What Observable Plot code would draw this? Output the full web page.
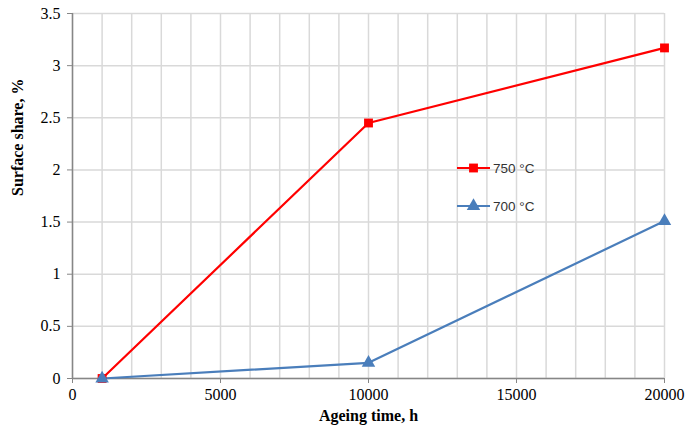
<!DOCTYPE html>
<html>
<head>
<meta charset="utf-8">
<script src="https://cdn.jsdelivr.net/npm/d3@7"></script>
<script src="https://cdn.jsdelivr.net/npm/@observablehq/plot@0.6"></script>
<style>
  html, body { margin: 0; padding: 0; background: #fff; }
  #chart { position: relative; width: 700px; height: 441px; }
</style>
</head>
<body>
<div id="chart"></div>
<script>
const times = [1000, 10000, 20000];
const share750 = [0, 2.45, 3.17];
const share700 = [0, 0.15, 1.51];
const seriesNames = ["750 °C", "700 °C"];
const seriesColors = ["#ff0000", "#4a7ebb"];
const seriesSymbols = ["square", "triangle"];
const xTicks = [0, 5000, 10000, 15000, 20000];
const xGrid = d3.range(0, 20001, 1000);
const yTicks = [0, 0.5, 1, 1.5, 2, 2.5, 3, 3.5];

const rows = [
  ...times.map((t, i) => ({ t, v: share750[i], s: seriesNames[0] })),
  ...times.map((t, i) => ({ t, v: share700[i], s: seriesNames[1] }))
];

const serif = "Liberation Serif";

const plot = Plot.plot({
  width: 700,
  height: 441,
  marginLeft: 72,
  marginRight: 36,
  marginTop: 13,
  marginBottom: 63,
  style: { fontFamily: serif, fontSize: "16px", color: "#000", background: "#fff" },
  x: { domain: [0, 20000] },
  y: { domain: [0, 3.5] },
  color: { domain: seriesNames, range: seriesColors },
  symbol: { domain: seriesNames, range: seriesSymbols },
  marks: [
    Plot.gridX(xGrid, { stroke: "#d9d9d9", strokeOpacity: 1, strokeWidth: 1.5 }),
    Plot.gridY(yTicks, { stroke: "#d9d9d9", strokeOpacity: 1, strokeWidth: 1.5 }),
    Plot.ruleX([0], { stroke: "#868686", strokeWidth: 1.5 }),
    Plot.ruleY([0], { stroke: "#868686", strokeWidth: 1.5 }),
    Plot.axisX(xTicks, { tickSize: 5, tickPadding: 5, stroke: "#868686", fill: "#000", tickFormat: d => String(d), fontSize: 16, fontVariant: "normal", label: null, className: "tk" }),
    Plot.axisY(yTicks, { tickSize: 5, tickPadding: 7, stroke: "#868686", fill: "#000", tickFormat: d => String(d), fontSize: 16, fontVariant: "normal", label: null, className: "tk" }),
    Plot.line(rows, { x: "t", y: "v", z: "s", stroke: "s", strokeWidth: 2.2 }),
    Plot.dot(rows, { x: "t", y: "v", fill: "s", symbol: "s", r: 5, stroke: null }),
    Plot.text(["Ageing time, h"], { frameAnchor: "bottom", dy: 42, fontWeight: "bold", fontSize: 16 }),
    Plot.text(["Surface share, %"], { frameAnchor: "left", dx: -55, rotate: -90, fontWeight: "bold", fontSize: 16 })
  ]
});
document.getElementById("chart").appendChild(plot);

const svg = d3.select(plot);
svg.selectAll("text").style("font-family", "'Liberation Serif', 'Times New Roman', serif");

// Legend drawn inside the plot area
const lg = svg.append("g").attr("transform", "translate(457,168)");
seriesNames.forEach((name, i) => {
  const g = lg.append("g").attr("transform", `translate(0,${i * 38})`);
  g.append("line").attr("x1", 0).attr("x2", 33).attr("y1", 0).attr("y2", 0)
    .attr("stroke", seriesColors[i]).attr("stroke-width", 2.2);
  g.append("path").attr("transform", "translate(16.5,0)")
    .attr("d", d3.symbol(i === 0 ? d3.symbolSquare : d3.symbolTriangle, Math.PI * 5 * 5)())
    .attr("fill", seriesColors[i]);
  g.append("text").attr("x", 36).attr("y", 0).attr("dy", "0.35em")
    .attr("text-anchor", "start")
    .style("font-family", "'Liberation Sans', Arial, sans-serif").attr("font-size", 13.5)
    .attr("fill", "#333").text(name);
});
</script>
</body>
</html>
